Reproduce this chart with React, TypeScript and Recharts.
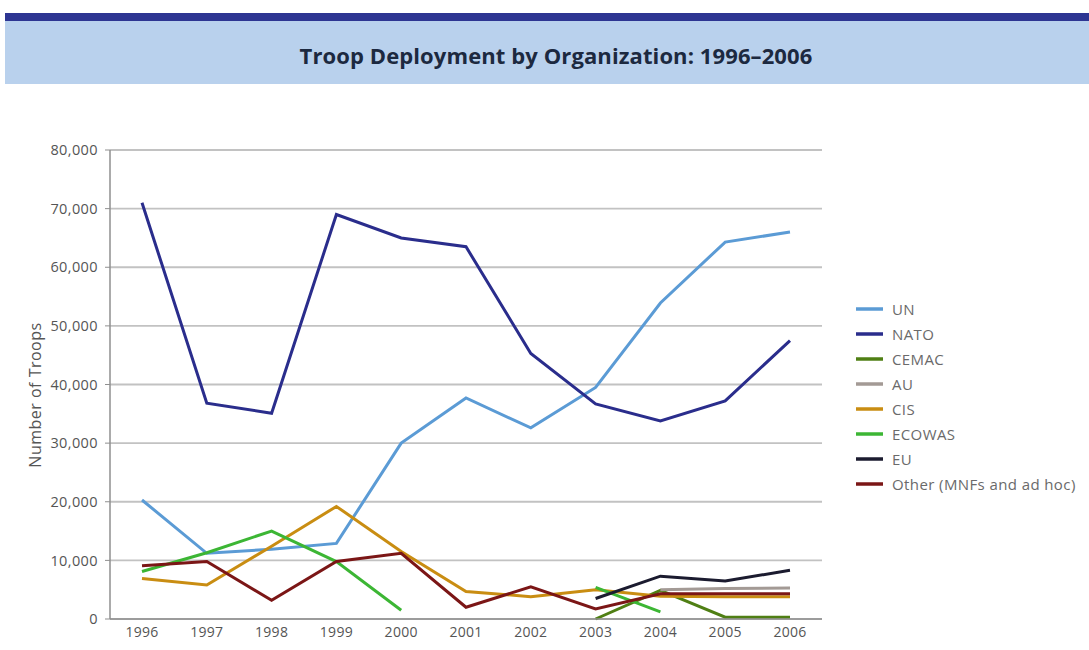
import React from 'react';
import { LineChart, Line, XAxis, YAxis, CartesianGrid, Legend } from 'recharts';

const years = ['1996', '1997', '1998', '1999', '2000', '2001', '2002', '2003', '2004', '2005', '2006'];
const yTicks = [0, 10000, 20000, 30000, 40000, 50000, 60000, 70000, 80000];

const un = [20300, 11200, 11900, 12900, 30000, 37700, 32600, 39500, 53900, 64300, 66000];
const nato = [71000, 36800, 35100, 69000, 65000, 63500, 45300, 36700, 33800, 37200, 47500];
const cemac = [null, null, null, null, null, null, null, 0, 4900, 300, 300];
const au = [null, null, null, null, null, null, null, null, 5000, 5200, 5300];
const cis = [6900, 5800, 12400, 19200, 11500, 4700, 3800, 5000, 3900, 3800, 3800];
const ecowas = [8100, 11300, 15000, 9800, 1500, null, null, 5400, 1200, null, null];
const eu = [null, null, null, null, null, null, null, 3500, 7300, 6500, 8300];
const other = [9100, 9800, 3200, 9800, 11200, 2000, 5500, 1700, 4300, 4300, 4300];

const series = [
  { key: 'un', name: 'UN', color: '#5b9bd5', values: un },
  { key: 'nato', name: 'NATO', color: '#2a2d8c', values: nato },
  { key: 'cemac', name: 'CEMAC', color: '#4f7f14', values: cemac },
  { key: 'au', name: 'AU', color: '#a39a95', values: au },
  { key: 'cis', name: 'CIS', color: '#c98d12', values: cis },
  { key: 'ecowas', name: 'ECOWAS', color: '#3cb634', values: ecowas },
  { key: 'eu', name: 'EU', color: '#1b1b2f', values: eu },
  { key: 'other', name: 'Other (MNFs and ad hoc)', color: '#7b1616', values: other },
];

const data = years.map((year, i) => {
  const row: any = { year };
  series.forEach((s) => {
    row[s.key] = s.values[i];
  });
  return row;
});

const FONT = '"Open Sans", "DejaVu Sans", sans-serif';

const renderLegend = () => (
  <div style={{ fontFamily: FONT }}>
    {series.map((s) => (
      <div key={s.key} style={{ display: 'flex', alignItems: 'center', height: 25 }}>
        <svg width={27} height={6} style={{ marginRight: 9 }}>
          <line x1={0} y1={3} x2={27} y2={3} stroke={s.color} strokeWidth={3.5} />
        </svg>
        <span style={{ fontSize: 15, color: '#6a6a6a', whiteSpace: 'nowrap', letterSpacing: 0.4 }}>{s.name}</span>
      </div>
    ))}
  </div>
);

const yLabel = () => (
  <text
    x={35}
    y={395}
    transform="rotate(-90 35 395)"
    textAnchor="middle"
    dominantBaseline="central"
    fontSize={16}
    letterSpacing={0.5}
    fontFamily={FONT}
    fill="#555"
  >
    Number of Troops
  </text>
);

export default function App() {
  return (
    <div style={{ position: 'absolute', left: 0, top: 0, width: 1089, height: 650, background: '#fff', overflow: 'hidden' }}>
      <div style={{ position: 'absolute', left: 5, top: 13, width: 1084, height: 8, background: '#2d3592' }} />
      <div
        style={{
          position: 'absolute',
          left: 5,
          top: 21,
          width: 1084,
          height: 63,
          background: '#b9d1ed',
          display: 'flex',
          alignItems: 'center',
          justifyContent: 'center',
        }}
      >
        <span
          style={{
            fontFamily: FONT,
            fontWeight: 700,
            fontSize: 22,
            color: '#1c2940',
            letterSpacing: 0.1,
            paddingLeft: 18,
            paddingTop: 4,
          }}
        >
          Troop Deployment by Organization: 1996–2006
        </span>
      </div>
      <div style={{ position: 'absolute', left: 0, top: 0 }}>
        <LineChart width={1089} height={650} data={data} margin={{ top: 150, right: 267, bottom: 0, left: 0 }}>
          <CartesianGrid vertical={false} stroke="#c2c2c2" strokeWidth={1.8} />
          <XAxis
            dataKey="year"
            padding={{ left: 32, right: 32 }}
            height={31}
            tickLine={false}
            axisLine={{ stroke: '#8f8f8f', strokeWidth: 1.5 }}
            tick={{ fill: '#555', fontSize: 14, fontFamily: FONT, letterSpacing: 0.3 }}
            interval={0}
          />
          <YAxis
            width={110}
            domain={[0, 80000]}
            ticks={yTicks}
            interval={0}
            tickFormatter={(v: number) => v.toLocaleString('en-US')}
            tickSize={5}
            tickMargin={7}
            tickLine={{ stroke: '#8f8f8f' }}
            axisLine={{ stroke: '#8f8f8f', strokeWidth: 1.5 }}
            tick={{ fill: '#555', fontSize: 14.5, fontFamily: FONT, letterSpacing: 0.4 }}
            label={{ content: yLabel }}
          />
          <Legend
            layout="vertical"
            align="center"
            verticalAlign="middle"
            wrapperStyle={{ position: 'absolute', left: 856, top: 296, width: 233 }}
            content={renderLegend}
          />
          {series.map((s) => (
            <Line
              key={s.key}
              type="linear"
              dataKey={s.key}
              name={s.name}
              stroke={s.color}
              strokeWidth={3}
              dot={false}
              activeDot={false}
              isAnimationActive={false}
            />
          ))}
        </LineChart>
      </div>
    </div>
  );
}
